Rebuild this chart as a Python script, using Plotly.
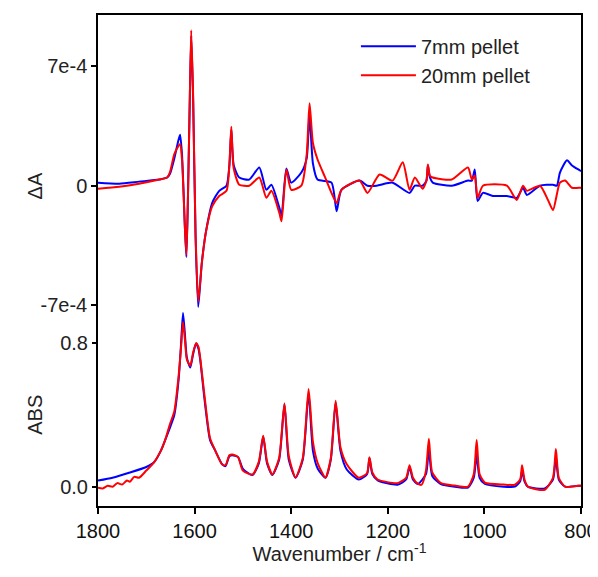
import plotly.graph_objects as go

# ---- Difference spectra (ΔA) ----
wn_da_7 = [1800, 1756, 1715, 1673, 1657, 1651, 1642, 1634, 1630, 1626, 1620, 1617, 1614, 1610, 1607, 1603, 1598,
           1592.5, 1585, 1576, 1563.5, 1549, 1534, 1528, 1524, 1519, 1507.5, 1487, 1466, 1451.5, 1441, 1424.5,
           1420, 1410, 1400, 1379, 1368, 1362, 1355, 1345.6, 1316.6, 1306, 1296, 1258.5, 1242, 1223, 1190, 1155,
           1144, 1128, 1120, 1117, 1113, 1107, 1067.6, 1034, 1026, 1020, 1014, 1003, 982.6, 953.5, 933, 920, 912,
           885, 858, 850, 843.6, 829, 818.7, 802, 800]
da_7 = [0.18, 0.12, 0.24, 0.36, 0.48, 0.7, 1.6, 2.6, 2.98, 1.8, -2.5, -4.17, -1.0, 5.0, 8.8, 5.0, -3.0,
        -7.1, -4.5, -2.62, -1.0, -0.3, 0.0, 1.2, 3.28, 1.2, 0.48, 0.36, 1.07, -0.24, 0.06, -1.3,
        -1.73, 1.01, 0.18, 0.77, 1.6, 4.17, 1.3, 0.36, 0.18, -1.49, -0.24, 0.30, 0.0, 0.0, 0.18, -0.42,
        0.0, 0.0, 0.3, 1.19, 0.5, 0.18, 0.0, 0.3, 0.3, 0.95, -0.89, -0.42, -0.6, -0.6, -0.71, -0.12, -0.54,
        0.0, 0.06, 0.0, 0.77, 1.49, 1.19, 0.89, 0.85]

wn_da_20 = [1800, 1756, 1715, 1673, 1657, 1651, 1642, 1634, 1630, 1626, 1620, 1617, 1614, 1610, 1607, 1603, 1598,
            1592.5, 1585, 1576, 1563.5, 1549, 1534, 1528, 1524, 1519, 1507.5, 1487, 1466, 1451.5, 1441, 1424.5,
            1420, 1410, 1400, 1379, 1368, 1362, 1355, 1345.6, 1330, 1316.6, 1306, 1296, 1258.5, 1242, 1217, 1190,
            1169, 1155, 1144, 1128, 1120, 1117, 1113, 1107, 1067.6, 1034, 1026, 1020, 1014, 1003, 953.5, 933, 920,
            912, 885, 868.5, 858, 843.6, 833, 818.7, 802, 800]
da_20 = [-0.18, -0.06, 0.12, 0.36, 0.48, 0.8, 1.85, 2.3, 2.44, 1.5, -2.5, -4.05, -1.0, 5.0, 9.11, 5.2, -2.8,
         -6.79, -4.5, -2.62, -1.2, -0.6, -0.3, 1.2, 3.46, 1.0, 0.06, 0.0, 0.48, -0.71, -0.30, -1.6,
         -2.08, 0.95, -0.24, 0.0, 1.8, 4.83, 2.5, 1.55, 0.5, -0.42, -1.01, -0.24, 0.30, -0.42, 0.66, 0.30,
         1.37, -0.24, 0.48, -0.18, 0.3, 1.25, 0.6, 0.48, 0.36, 1.07, 0.36, 0.6, -0.71, 0.0, 0.0, -0.83, 0.0,
         -0.30, 0.0, -0.83, -1.43, 0.18, 0.30, -0.12, -0.12, -0.12]

# ---- Absorbance spectra (ABS) ----
wn_abs_7 = [1800, 1770, 1734, 1700, 1684, 1670, 1661, 1651, 1642, 1633, 1628, 1624, 1620, 1616, 1609, 1603, 1597,
            1592, 1588, 1580, 1568, 1557, 1543, 1536, 1528, 1522, 1510, 1500, 1480, 1467, 1458, 1450, 1439, 1425,
            1414, 1405, 1391, 1376, 1364, 1355, 1345, 1329, 1318, 1308, 1298, 1285, 1260, 1243, 1238, 1232, 1221,
            1180, 1162, 1155, 1148, 1138, 1121, 1115, 1108, 1090, 1061, 1034, 1022, 1016, 1010, 999, 960, 937, 926,
            922, 917, 910, 875, 858, 852, 846, 833, 806, 800]
abs_7 = [0.034, 0.05, 0.079, 0.11, 0.136, 0.2, 0.26, 0.33, 0.40, 0.6, 0.8, 0.97, 0.85, 0.72, 0.665, 0.74, 0.80,
         0.77, 0.70, 0.50, 0.26, 0.20, 0.125, 0.115, 0.17, 0.175, 0.165, 0.10, 0.065, 0.13, 0.28, 0.13, 0.065, 0.15,
         0.46, 0.15, 0.05, 0.15, 0.52, 0.2, 0.1, 0.05, 0.15, 0.47, 0.2, 0.096, 0.04, 0.07, 0.16, 0.07, 0.035,
         0.011, 0.04, 0.11, 0.04, 0.015, 0.07, 0.21, 0.06, 0.015, 0.0, -0.005, 0.05, 0.18, 0.05, 0.015, 0.0, 0.0, 0.03,
         0.09, 0.03, 0.0, -0.01, 0.04, 0.165, 0.04, 0.0, 0.005, 0.005]

wn_abs_20 = [1800, 1790, 1780, 1770, 1760, 1750, 1740, 1734, 1725, 1715, 1700, 1684, 1670, 1661, 1651, 1642, 1633,
             1628, 1624, 1620, 1616, 1609, 1603, 1597, 1592, 1588, 1580, 1568, 1557, 1543, 1536, 1528, 1522, 1510,
             1500, 1480, 1467, 1458, 1450, 1439, 1425, 1414, 1405, 1391, 1376, 1364, 1355, 1345, 1329, 1318, 1308,
             1298, 1285, 1260, 1243, 1238, 1232, 1221, 1180, 1162, 1155, 1148, 1138, 1130, 1121, 1115, 1108, 1090,
             1061, 1034, 1022, 1016, 1010, 999, 960, 937, 926, 922, 917, 910, 875, 858, 852, 846, 833, 806, 800]
abs_20 = [-0.006, -0.01, 0.005, 0.0, 0.02, 0.012, 0.035, 0.028, 0.055, 0.05, 0.09, 0.136, 0.2, 0.26, 0.35, 0.42, 0.62,
          0.78, 0.92, 0.82, 0.71, 0.675, 0.75, 0.80, 0.78, 0.71, 0.52, 0.27, 0.20, 0.125, 0.12, 0.175, 0.18, 0.165,
          0.09, 0.068, 0.14, 0.284, 0.14, 0.068, 0.16, 0.465, 0.17, 0.051, 0.16, 0.545, 0.25, 0.13, 0.051, 0.16, 0.48,
          0.22, 0.125, 0.05, 0.075, 0.165, 0.08, 0.04, 0.02, 0.05, 0.12, 0.05, 0.017, 0.011, 0.09, 0.267, 0.08, 0.02,
          0.006, 0.0, 0.07, 0.26, 0.07, 0.023, 0.012, 0.011, 0.04, 0.12, 0.04, 0.0, -0.017, 0.05, 0.21, 0.05, 0.0,
          0.005, 0.005]

series_names = ["7mm pellet", "20mm pellet"]
colors = ["#0000FF", "#FF0000"]

x_ticks = [1800, 1600, 1400, 1200, 1000, 800]
da_ticks = [7e-4, 0, -7e-4]
da_ticktext = ["7e-4", "0", "-7e-4"]
abs_ticks = [0.0, 0.8]
abs_ticktext = ["0.0", "0.8"]

FONT = "Liberation Sans, Arial, sans-serif"
FS = 20
fig = go.Figure()

line_kw = dict(shape="spline", smoothing=0.6)
fig.add_trace(go.Scatter(x=wn_da_7, y=[v * 1e-4 for v in da_7], mode="lines", name=series_names[0],
                         legendgroup="a", line=dict(color=colors[0], width=2, **line_kw), yaxis="y"))
fig.add_trace(go.Scatter(x=wn_da_20, y=[v * 1e-4 for v in da_20], mode="lines", name=series_names[1],
                         legendgroup="b", line=dict(color=colors[1], width=2, **line_kw), yaxis="y"))
fig.add_trace(go.Scatter(x=wn_abs_7, y=abs_7, mode="lines", name=series_names[0], showlegend=False,
                         legendgroup="a", line=dict(color=colors[0], width=2, **line_kw), yaxis="y2"))
fig.add_trace(go.Scatter(x=wn_abs_20, y=abs_20, mode="lines", name=series_names[1], showlegend=False,
                         legendgroup="b", line=dict(color=colors[1], width=2, **line_kw), yaxis="y2"))

fig.update_layout(
    width=590, height=557,
    margin=dict(l=90, r=17, t=7, b=59, autoexpand=False),
    paper_bgcolor="white", plot_bgcolor="white",
    font=dict(family=FONT, size=FS, color="#222222"),
    showlegend=True,
    legend=dict(x=0.534, y=0.976, xanchor="left", yanchor="top", bgcolor="rgba(0,0,0,0)",
                font=dict(size=FS), tracegroupgap=0, itemwidth=55),
    xaxis=dict(range=[1800, 800], tickvals=x_ticks, ticks="outside", ticklen=6, tickwidth=1.5,
               tickcolor="black", tickfont=dict(color="#111111"), ticklabeloverflow="allow", automargin=False,
               showline=True, linecolor="black", linewidth=1.5, mirror=True, showgrid=False, zeroline=False,
               title=dict(text="Wavenumber / cm<sup>-1</sup>", standoff=10, font=dict(size=FS))),
    yaxis=dict(range=[-18.76e-4, 10.0e-4], tickvals=da_ticks, ticktext=da_ticktext, ticks="outside",
               ticklen=5, tickwidth=1.5, tickcolor="black", showline=True, linecolor="black", linewidth=1.5,
               mirror=True, showgrid=False, zeroline=False, automargin=False),
    yaxis2=dict(range=[-0.1078, 2.633], tickvals=abs_ticks, ticktext=abs_ticktext, ticks="outside",
                ticklen=5, tickwidth=1.5, tickcolor="black", overlaying="y", side="left", showline=False,
                showgrid=False, zeroline=False, automargin=False),
)

fig.add_annotation(text="ΔA", xref="paper", yref="y", x=-0.131, y=0, textangle=-90, showarrow=False,
                   font=dict(size=FS), xanchor="center", yanchor="middle")
fig.add_annotation(text="ABS", xref="paper", yref="y2", x=-0.131, y=0.4, textangle=-90, showarrow=False,
                   font=dict(size=FS), xanchor="center", yanchor="middle")

fig.write_html("out.html")
